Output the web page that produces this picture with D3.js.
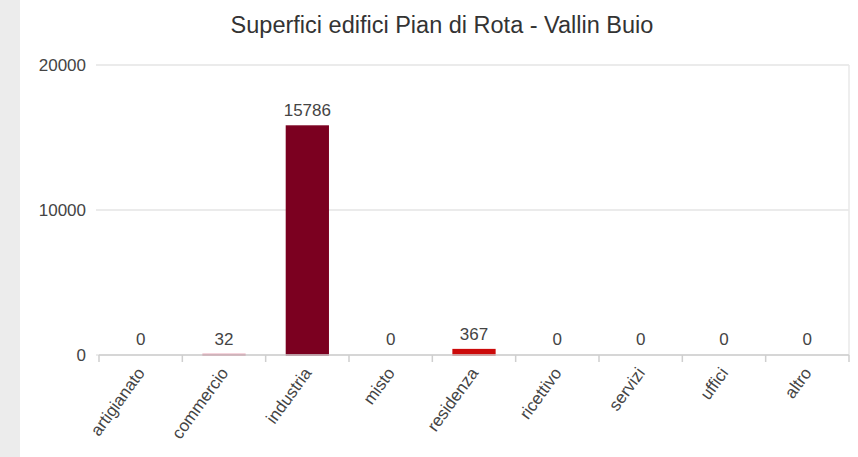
<!DOCTYPE html>
<html>
<head>
<meta charset="utf-8">
<script src="https://cdn.jsdelivr.net/npm/d3@7"></script>
<style>
  html, body { margin: 0; padding: 0; background: #fff; }
  svg { display: block; font-family: "Liberation Sans", Arial, sans-serif; }
</style>
</head>
<body>
<svg id="chart" width="858" height="457"></svg>
<script>
// Building floor areas by use category
const categories = ["artigianato", "commercio", "industria", "misto", "residenza", "ricettivo", "servizi", "uffici", "altro"];
const values = [0, 32, 15786, 0, 367, 0, 0, 0, 0];
const barColors = ["#7b0020", "#d4607e", "#7b0020", "#7b0020", "#cc0a0a", "#7b0020", "#7b0020", "#7b0020", "#7b0020"];
const yTicks = [0, 10000, 20000];
const title = "Superfici edifici Pian di Rota - Vallin Buio";

const svg = d3.select("#chart");
const W = 858, H = 457;
const margin = { left: 99, right: 9, top: 65, bottom: 102 };
const plotW = W - margin.left - margin.right;
const plotH = H - margin.top - margin.bottom;

// Textured strip along the left edge
svg.append("rect").attr("x", 0).attr("y", 0).attr("width", 20).attr("height", H).attr("fill", "#ececec");

const x = d3.scaleBand().domain(categories).range([margin.left, margin.left + plotW]).paddingInner(0.5).paddingOuter(0.25);
const y = d3.scaleLinear().domain([0, 20000]).range([margin.top + plotH, margin.top]);

// Horizontal grid
svg.append("g").selectAll("line").data(yTicks).join("line")
  .attr("x1", margin.left - 3).attr("x2", margin.left + plotW)
  .attr("y1", d => y(d)).attr("y2", d => y(d))
  .attr("stroke", "#e4e4e4").attr("stroke-width", 1.5);

// Right border of the plot
svg.append("line")
  .attr("x1", margin.left + plotW).attr("x2", margin.left + plotW)
  .attr("y1", margin.top).attr("y2", margin.top + plotH)
  .attr("stroke", "#e8e8e8").attr("stroke-width", 1.5);

// Y axis labels
const yAxis = d3.axisLeft(y).tickValues(yTicks).tickSize(0).tickPadding(13).tickFormat(d3.format("d"));
const gy = svg.append("g").attr("transform", `translate(${margin.left},0)`).call(yAxis);
gy.select(".domain").remove();
gy.selectAll("text").attr("font-size", 17).attr("fill", "#444").attr("font-family", "Liberation Sans, Arial, sans-serif");

// Bars (a thin outline keeps very small values visible)
svg.append("g").selectAll("rect").data(values).join("rect")
  .attr("x", (d, i) => x(categories[i]))
  .attr("width", x.bandwidth())
  .attr("y", d => y(d))
  .attr("height", d => y(0) - y(d))
  .attr("fill", (d, i) => barColors[i])
  .attr("stroke", (d, i) => d > 0 ? barColors[i] : "none")
  .attr("stroke-width", 1.6);

// X axis with category boundary ticks
const step = x.step();
const gx = svg.append("g").attr("transform", `translate(0,${y(0)})`);
gx.append("line").attr("x1", margin.left).attr("x2", margin.left + plotW)
  .attr("stroke", "#cfcfcf").attr("stroke-width", 1.5);
gx.selectAll("line.tick").data(d3.range(categories.length + 1)).join("line")
  .attr("class", "tick")
  .attr("x1", i => margin.left + i * step).attr("x2", i => margin.left + i * step)
  .attr("y1", 0).attr("y2", 7)
  .attr("stroke", "#cfcfcf").attr("stroke-width", 1.5);

// Category labels, rotated
gx.selectAll("text").data(categories).join("text")
  .attr("transform", d => `translate(${x(d) + x.bandwidth() / 2 + 5},${18}) rotate(-54)`)
  .attr("text-anchor", "end")
  .attr("font-size", 17)
  .attr("fill", "#444")
  .text(d => d);

// Value labels above bars
svg.append("g").selectAll("text").data(values).join("text")
  .attr("x", (d, i) => x(categories[i]) + x.bandwidth() / 2)
  .attr("y", d => y(d) - 10)
  .attr("text-anchor", "middle")
  .attr("font-size", 17)
  .attr("fill", "#444")
  .text(d => d);

// Title
svg.append("text")
  .attr("x", 442).attr("y", 33)
  .attr("text-anchor", "middle")
  .attr("font-size", 23.5)
  .attr("fill", "#333")
  .text(title);
</script>
</body>
</html>
